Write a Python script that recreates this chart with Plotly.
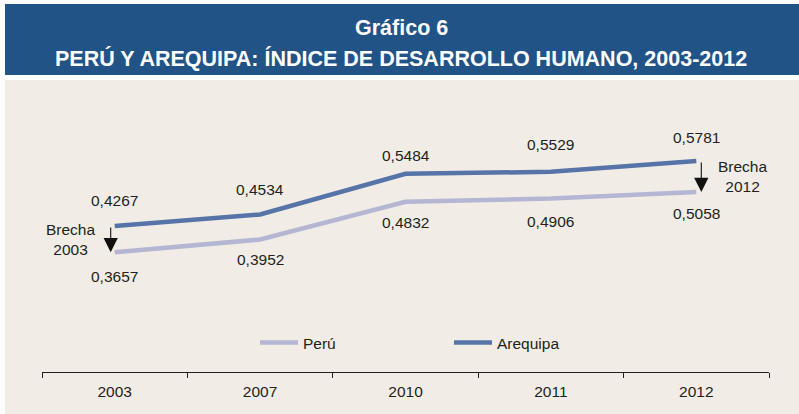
import plotly.graph_objects as go

# ---- data ----
years = ["2003", "2007", "2010", "2011", "2012"]
peru = [0.3657, 0.3952, 0.4832, 0.4906, 0.5058]
arequipa = [0.4267, 0.4534, 0.5484, 0.5529, 0.5781]
peru_labels = ["0,3657", "0,3952", "0,4832", "0,4906", "0,5058"]
arequipa_labels = ["0,4267", "0,4534", "0,5484", "0,5529", "0,5781"]
title_line1 = "Gráfico 6"
title_line2 = "PERÚ Y AREQUIPA: ÍNDICE DE DESARROLLO HUMANO, 2003-2012"
gap_labels = ["Brecha<br>2003", "Brecha<br>2012"]

# ---- style ----
C_PERU = "#B4B6D3"
C_AREQ = "#5674A8"
C_TEXT = "#231F20"
C_BLUE = "#215387"
C_BEIGE = "#F1EDE6"
FONT = "Liberation Sans, Arial, sans-serif"
FS = 15.5

ML, MR, MT, MB = 42, 30, 100, 42
W, H = 799, 414
PW, PH = W - ML - MR, H - MT - MB

def px_x(p):
    return (p - ML) / PW

def px_y(p):
    return (H - MB - p) / PH

fig = go.Figure()
fig.add_trace(go.Scatter(x=years, y=peru, mode="lines", name="Perú",
                         line=dict(color=C_PERU, width=4.5)))
fig.add_trace(go.Scatter(x=years, y=arequipa, mode="lines", name="Arequipa",
                         line=dict(color=C_AREQ, width=4.5)))

annotations = []
areq_shift = [26, 25, 18, 27, 24]
peru_shift = [-24, -20, -21, -23, -21]
for i in range(len(years)):
    annotations.append(dict(x=i, y=arequipa[i], xref="x", yref="y", text=arequipa_labels[i],
                            showarrow=False, yshift=areq_shift[i],
                            font=dict(size=FS, color=C_TEXT, family=FONT)))
    annotations.append(dict(x=i, y=peru[i], xref="x", yref="y", text=peru_labels[i],
                            showarrow=False, yshift=peru_shift[i],
                            font=dict(size=FS, color=C_TEXT, family=FONT)))

# gap arrows
for k, (idx, xs, tshift) in enumerate([(0, -4, -44), (4, 5, 46)]):
    annotations.append(dict(x=idx, y=peru[idx], ax=idx, ay=arequipa[idx], xref="x", yref="y",
                            axref="x", ayref="y", xshift=xs, showarrow=True, arrowhead=2,
                            arrowsize=2.6, arrowwidth=1.1, arrowcolor="#111111", text="",
                            standoff=0, startstandoff=0))
    annotations.append(dict(x=idx, y=(peru[idx] + arequipa[idx]) / 2, xref="x", yref="y",
                            text=gap_labels[k], showarrow=False, xshift=tshift, align="center",
                            font=dict(size=FS, color=C_TEXT, family=FONT)))

# title
annotations.append(dict(xref="paper", yref="paper", x=px_x(401), y=px_y(28), text="<b>%s</b>" % title_line1,
                        showarrow=False, font=dict(size=21.5, color="white", family=FONT), yanchor="middle"))
annotations.append(dict(xref="paper", yref="paper", x=px_x(401), y=px_y(58), text="<b>%s</b>" % title_line2,
                        showarrow=False, font=dict(size=21.5, color="white", family=FONT), yanchor="middle"))

shapes = [
    dict(type="rect", xref="paper", yref="paper", x0=px_x(5), x1=px_x(810), y0=px_y(80), y1=px_y(420),
         fillcolor=C_BEIGE, line=dict(width=0), layer="below"),
    dict(type="rect", xref="paper", yref="paper", x0=px_x(5), x1=px_x(810), y0=px_y(75), y1=px_y(4),
         fillcolor=C_BLUE, line=dict(width=0), layer="below"),
]

ymax = 0.7202
ymin = ymax - PH / 429.3

fig.update_layout(
    width=W, height=H,
    margin=dict(l=ML, r=MR, t=MT, b=MB),
    paper_bgcolor="white", plot_bgcolor="rgba(0,0,0,0)",
    font=dict(family=FONT, size=FS, color=C_TEXT),
    showlegend=True,
    legend=dict(orientation="h", x=px_x(255), y=px_y(343), xanchor="left", yanchor="middle",
                bgcolor="rgba(0,0,0,0)", font=dict(size=FS, color=C_TEXT, family=FONT),
                itemwidth=38, entrywidth=141, entrywidthmode="pixels"),
    annotations=annotations,
    shapes=shapes,
    xaxis=dict(type="category", range=[-0.5, 4.5], showgrid=False, zeroline=False,
               showline=True, linecolor="#231F20", linewidth=1.2, ticks="outside",
               tickson="boundaries", ticklen=5, tickcolor="#231F20", tickwidth=1.2,
               ticklabelstandoff=5,
               tickfont=dict(size=FS, color=C_TEXT, family=FONT)),
    yaxis=dict(range=[ymin, ymax], visible=False, showgrid=False, zeroline=False),
)

fig.write_html("out.html", config={"displayModeBar": False},
               post_script="document.body.style.margin='0';document.body.style.overflow='hidden';")
